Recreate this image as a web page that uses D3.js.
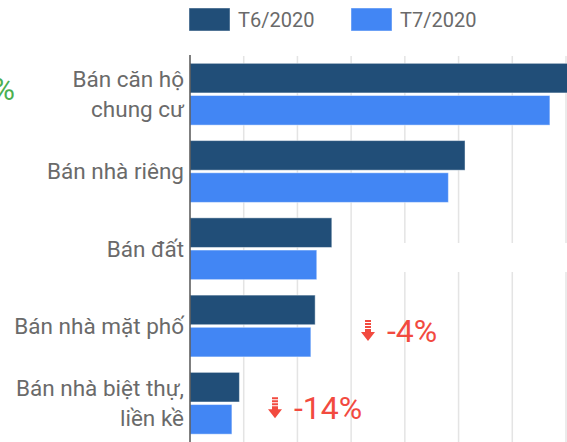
<!DOCTYPE html>
<html>
<head>
    <meta charset="UTF-8">
    <title>Bar Chart</title>
    <script src="https://d3js.org/d3.v7.min.js"></script>
    <style type="text/css">
      body{ margin:0; background-color:white; }
      svg{ display:block; background-color:white; font-family: Roboto, "Noto Sans", sans-serif; }
    </style>
</head>
<body>
    <svg id="chart"></svg>
    <script>
        // data
        const categories = [
          ["Bán căn hộ", "chung cư"],
          ["Bán nhà riêng"],
          ["Bán đất"],
          ["Bán nhà mặt phố"],
          ["Bán nhà biệt thự,", "liền kề"]
        ];
        const seriesNames = ["T6/2020", "T7/2020"];
        const t6 = [74, 51.2, 26.4, 23.3, 9.2];
        const t7 = [67.0, 48.1, 23.6, 22.5, 7.8];
        const changes = [null, null, null, "-4%", "-14%"];
        const tickValues = [0, 10, 20, 30, 40, 50, 60, 70];

        const colors = ["#214e78", "#4286f4"];
        const width = 567, height = 442;

        const svg = d3.select("#chart")
          .attr("width", width)
          .attr("height", height);

        const x_scale = d3.scaleLinear()
          .domain([0, 70])
          .range([190, 566]);

        const y_scale = d3.scaleBand()
          .domain(d3.range(categories.length))
          .range([55.6, 441.9])
          .paddingInner(0.2)
          .paddingOuter(0.1);

        const sub_scale = d3.scaleBand()
          .domain([0, 1])
          .range([0, y_scale.bandwidth()])
          .paddingInner(0.08);

        // grid
        svg.append("g")
          .selectAll("line")
          .data(tickValues.slice(1))
          .join("line")
          .attr("x1", d => x_scale(d))
          .attr("x2", d => x_scale(d))
          .attr("y1", 56)
          .attr("y2", height)
          .attr("stroke", "#e4e4e4")
          .attr("stroke-width", 1.5);

        // white patch over grid (hidden label in source)
        svg.append("rect")
          .attr("x", 398).attr("y", 243)
          .attr("width", 169).attr("height", 29)
          .attr("fill", "white");

        // bars
        const rows = categories.map((c, i) => [t6[i], t7[i]]);
        const groups = svg.append("g")
          .selectAll("g")
          .data(rows)
          .join("g")
          .attr("transform", (d, i) => `translate(0, ${y_scale(i)})`);

        groups.selectAll("rect")
          .data(d => d)
          .join("rect")
          .attr("x", x_scale(0))
          .attr("y", (d, j) => sub_scale(j))
          .attr("width", d => x_scale(d) - x_scale(0))
          .attr("height", sub_scale.bandwidth())
          .attr("fill", (d, j) => colors[j])
          .attr("stroke", "rgba(255,255,255,0.45)")
          .attr("stroke-width", 1);

        // axis line
        svg.append("line")
          .attr("x1", 190).attr("x2", 190)
          .attr("y1", 55).attr("y2", height)
          .attr("stroke", "#555")
          .attr("stroke-width", 1.5);

        // category labels
        const labels = svg.append("g")
          .selectAll("text")
          .data(categories)
          .join("text")
          .attr("text-anchor", "end")
          .attr("fill", "#6a6a6a")
          .style("font-size", "22.5px")
          .attr("transform", (d, i) => `translate(184, ${y_scale(i) + y_scale.bandwidth() / 2})`);

        labels.selectAll("tspan")
          .data(d => d.map((t, k) => ({t, k, n: d.length})))
          .join("tspan")
          .attr("x", 0)
          .attr("y", d => (d.k - (d.n - 1) / 2) * 30 + 8)
          .text(d => d.t);

        // legend
        const legend = svg.append("g");
        seriesNames.forEach((s, i) => {
          const lx = 189 + i * 162;
          legend.append("rect")
            .attr("x", lx).attr("y", 8)
            .attr("width", 41).attr("height", 23)
            .attr("fill", colors[i])
            .attr("stroke", "rgba(255,255,255,0.45)");
          legend.append("text")
            .attr("x", lx + 49).attr("y", 27)
            .attr("fill", "#6a6a6a")
            .style("font-size", "20px")
            .text(s);
        });

        // change annotations
        const ann = svg.append("g")
          .selectAll("g")
          .data(changes.map((c, i) => ({c, i})).filter(d => d.c))
          .join("g")
          .attr("transform", d => {
            const xs = d.c === "-4%" ? 362 : 269;
            return `translate(${xs}, ${y_scale(d.i) + y_scale.bandwidth() / 2 + 5})`;
          });

        ann.append("path")
          .attr("d", "M3,-11h6v2h-6z M3,-8h6v2h-6z M3,-5h6v2h-6z M3,-2h6v3h4l-7,9l-7,-9h4z")
          .attr("fill", "#f24a3f");

        ann.append("text")
          .attr("x", 25)
          .attr("y", 11)
          .attr("fill", "#f24a3f")
          .style("font-size", "32px")
          .text(d => d.c);

        // cropped green annotation at left
        svg.append("text")
          .attr("x", 15)
          .attr("y", y_scale(0) + y_scale.bandwidth() / 2 + 6)
          .attr("text-anchor", "end")
          .attr("fill", "#4caf50")
          .style("font-size", "31px")
          .text("%");
    </script>
</body>
</html>
